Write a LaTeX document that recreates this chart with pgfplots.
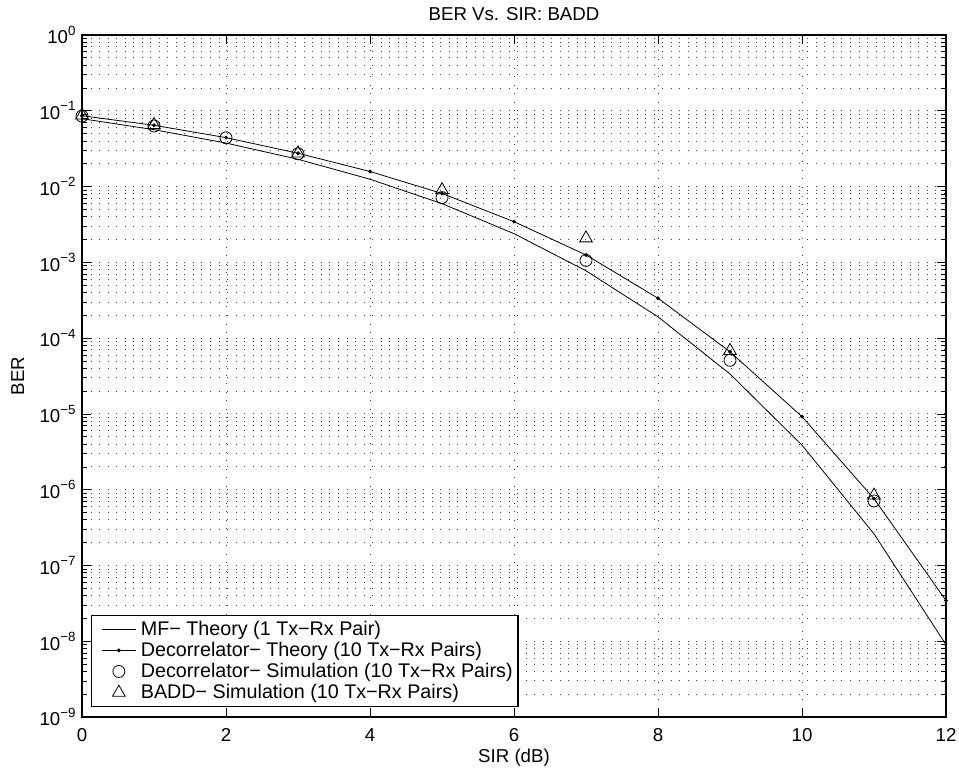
\documentclass[border=0pt]{standalone}
\usepackage{fontspec}
\setmainfont{Liberation Sans}
\usepackage{pgfplots}
\pgfplotsset{compat=1.18}
\newcommand{\tp}[1]{10\raisebox{6.5pt}{\fontsize{10}{10}\selectfont #1}}
\begin{document}
\fontsize{14}{16}\selectfont
\begin{tikzpicture}[font=\fontsize{14}{16}\selectfont]
\begin{axis}[
  scale only axis,
  width=648pt, height=511.5pt,
  font=\fontsize{14}{16}\selectfont,
  ymode=log,
  xmin=0, xmax=12, ymin=1e-9, ymax=1,
  xtick={0,2,4,6,8,10,12},
  ytick={1e-9,1e-8,1e-7,1e-6,1e-5,1e-4,1e-3,1e-2,1e-1,1},
  yticklabels={\tp{−9},\tp{−8},\tp{−7},\tp{−6},\tp{−5},\tp{−4},\tp{−3},\tp{−2},\tp{−1},\tp{0}},
  /pgf/number format/assume math mode=true,
  tick label style={font=\fontsize{14}{16}\selectfont},
  xticklabel style={yshift=-4pt},
  tick align=inside,
  major tick length=6.5pt, minor tick length=3.5pt,
  tick style={black, line width=0.5pt},
  grid=both,
  xminorgrids=false,
  major grid style={black!75, line width=0.6pt, dash pattern=on 0.7pt off 5.7pt},
  minor grid style={black!75, line width=0.6pt, dash pattern=on 0.7pt off 5.7pt},
  axis line style={black, line width=0.8pt},
  title={BER Vs. SIR: BADD},
  title style={font=\fontsize{14}{16}\selectfont, yshift=0pt},
  xlabel={SIR (dB)},
  ylabel={BER},
  label style={font=\fontsize{14}{16}\selectfont},
  xlabel style={yshift=4pt},
  ylabel style={yshift=2pt},
  legend style={at={(0.0104,0.0147)}, anchor=south west, draw=black, line width=0.8pt,
    font=\fontsize{14.8}{16}\selectfont, row sep=-1pt, inner sep=2pt,
    legend cell align=left},
  legend image code/.code={\path[draw=none,fill=none] (-6pt,0pt) (27pt,0pt);\draw[mark repeat=2,mark phase=2,#1] plot coordinates {(0pt,0pt) (12.5pt,0pt) (25pt,0pt)};},
]
\addplot[black, line width=0.6pt, mark=none] coordinates {
(0,0.0786) (1,0.0563) (2,0.0375) (3,0.0229) (4,0.0125) (5,0.00595) (6,0.00239)
(7,7.73e-4) (8,1.91e-4) (9,3.36e-5) (10,3.87e-6) (11,2.61e-7) (12,9.0e-9)};
\addlegendentry{MF− Theory (1 Tx−Rx Pair)}
\addplot[black, line width=0.6pt, mark=*, mark size=1.1pt] coordinates {
(0,0.086) (1,0.0644) (2,0.0442) (3,0.0275) (4,0.0158) (5,0.0081) (6,3.44e-3)
(7,1.25e-3) (8,3.36e-4) (9,6.6e-5) (10,9.2e-6) (11,7.6e-7) (12,3.44e-8)};
\addlegendentry{Decorrelator− Theory (10 Tx−Rx Pairs)}
\addplot[black, only marks, mark=o, mark size=4.5pt, mark options={line width=0.6pt}] coordinates {
(0,0.085) (1,0.063) (2,0.044) (3,0.027) (5,0.00714) (7,1.06e-3) (9,5.1e-5) (11,7.1e-7)};
\addlegendentry{Decorrelator− Simulation (10 Tx−Rx Pairs)}
\addplot[black, only marks, mark=triangle, mark size=5.5pt, mark options={line width=0.6pt}] coordinates {
(0,0.087) (1,0.065) (3,0.0275) (5,0.0090) (7,2.08e-3) (9,6.8e-5) (11,8.4e-7)};
\addlegendentry{BADD− Simulation (10 Tx−Rx Pairs)}
\end{axis}
\pgfresetboundingbox
\path ([shift={(-61.5pt,-39.75pt)}]current axis.south west) rectangle ([shift={(9.75pt,26.25pt)}]current axis.north east);
\end{tikzpicture}
\end{document}
